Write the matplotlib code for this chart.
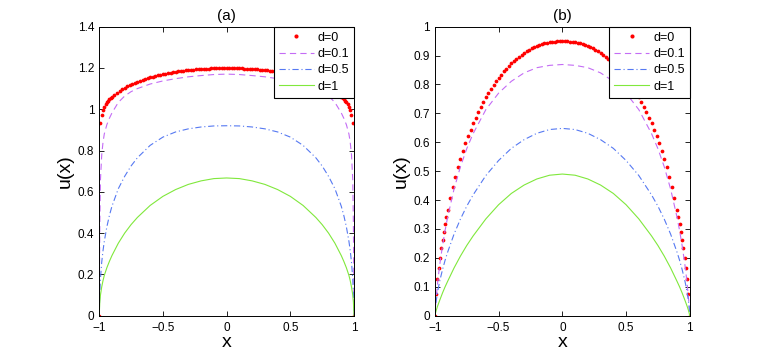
import numpy as np
import matplotlib.pyplot as plt

plt.rcParams['font.family'] = ['Liberation Sans', 'DejaVu Sans']
plt.rcParams['lines.scale_dashes'] = False

# x grid of the d=0 points (finer next to the walls)
x_dot = np.round(np.r_[np.arange(-1, -0.895, 0.01),
                       np.arange(-0.88, 0.885, 0.02),
                       np.arange(0.9, 1.005, 0.01)], 2)
# x grid of the line curves
x_line = [-1, -0.995, -0.99, -0.98, -0.97, -0.96, -0.94, -0.92, -0.9, -0.85,
          -0.8, -0.75, -0.7, -0.6, -0.5, -0.4, -0.3, -0.2, -0.1, 0,
          0.1, 0.2, 0.3, 0.4, 0.5, 0.6, 0.7, 0.75, 0.8, 0.85,
          0.9, 0.92, 0.94, 0.96, 0.97, 0.98, 0.99, 0.995, 1]

# panel (a)
a_d0 = [0, 0.935, 0.972, 0.996, 1.012, 1.024, 1.033, 1.041, 1.048, 1.054, 1.059,
        1.069, 1.079, 1.088, 1.096, 1.104, 1.111, 1.117, 1.123, 1.129, 1.134,
        1.139, 1.143, 1.147, 1.151, 1.155, 1.158, 1.161, 1.164, 1.167, 1.170,
        1.172, 1.175, 1.177, 1.179, 1.181, 1.183, 1.185, 1.186, 1.188, 1.189,
        1.190, 1.192, 1.193, 1.194, 1.195, 1.196, 1.197, 1.197, 1.198, 1.199,
        1.199, 1.200, 1.200, 1.200, 1.200,
        1.200, 1.200, 1.200, 1.199, 1.199,
        1.198, 1.197, 1.197, 1.196, 1.195, 1.194, 1.193, 1.192, 1.190, 1.189,
        1.188, 1.186, 1.185, 1.183, 1.181, 1.179, 1.177, 1.175, 1.172, 1.170,
        1.167, 1.164, 1.161, 1.158, 1.155, 1.151, 1.147, 1.143, 1.139, 1.134,
        1.129, 1.123, 1.117, 1.111, 1.104, 1.096, 1.088, 1.079, 1.069,
        1.059, 1.054, 1.048, 1.041, 1.033, 1.024, 1.012, 0.996, 0.972, 0.935, 0]
a_d01 = [0, 0.45, 0.66, 0.78, 0.84, 0.88, 0.925, 0.956, 0.982, 1.033,
         1.064, 1.085, 1.100, 1.122, 1.137, 1.148, 1.157, 1.163, 1.168, 1.170,
         1.168, 1.163, 1.157, 1.148, 1.137, 1.122, 1.100, 1.085, 1.064, 1.033,
         0.982, 0.956, 0.925, 0.88, 0.84, 0.78, 0.66, 0.45, 0]
a_d05 = [0, 0.11, 0.18, 0.26, 0.315, 0.36, 0.43, 0.485, 0.53, 0.615,
         0.675, 0.725, 0.765, 0.825, 0.865, 0.89, 0.905, 0.914, 0.919, 0.920,
         0.919, 0.914, 0.905, 0.89, 0.865, 0.825, 0.765, 0.725, 0.675, 0.615,
         0.53, 0.485, 0.43, 0.36, 0.315, 0.26, 0.18, 0.11, 0]
a_d1 = [0, 0.067, 0.10, 0.14, 0.17, 0.195, 0.232, 0.263, 0.291, 0.351,
        0.40, 0.441, 0.476, 0.534, 0.578, 0.611, 0.636, 0.653, 0.664, 0.667,
        0.664, 0.653, 0.636, 0.611, 0.578, 0.534, 0.476, 0.441, 0.40, 0.351,
        0.291, 0.263, 0.232, 0.195, 0.17, 0.14, 0.10, 0.067, 0]

# panel (b)
b_d0 = [0, 0.076, 0.127, 0.166, 0.200, 0.233, 0.263, 0.291, 0.318, 0.343, 0.366,
        0.408, 0.446, 0.481, 0.513, 0.543, 0.571, 0.597, 0.621, 0.644, 0.665,
        0.685, 0.704, 0.722, 0.739, 0.755, 0.770, 0.785, 0.798, 0.811, 0.823,
        0.834, 0.845, 0.855, 0.864, 0.873, 0.881, 0.889, 0.896, 0.903, 0.909,
        0.915, 0.920, 0.925, 0.929, 0.933, 0.937, 0.940, 0.942, 0.944, 0.946,
        0.947, 0.948, 0.949, 0.949, 0.950,
        0.949, 0.949, 0.948, 0.947, 0.946,
        0.944, 0.942, 0.940, 0.937, 0.933, 0.929, 0.925, 0.920, 0.915, 0.909,
        0.903, 0.896, 0.889, 0.881, 0.873, 0.864, 0.855, 0.845, 0.834, 0.823,
        0.811, 0.798, 0.785, 0.770, 0.755, 0.739, 0.722, 0.704, 0.685, 0.665,
        0.644, 0.621, 0.597, 0.571, 0.543, 0.513, 0.481, 0.446, 0.408,
        0.366, 0.343, 0.318, 0.291, 0.263, 0.233, 0.200, 0.166, 0.127, 0.076, 0]
b_d01 = [0, 0.035, 0.062, 0.108, 0.148, 0.183, 0.243, 0.295, 0.341, 0.438,
         0.515, 0.578, 0.630, 0.713, 0.770, 0.811, 0.840, 0.858, 0.866, 0.869,
         0.866, 0.858, 0.840, 0.811, 0.770, 0.713, 0.630, 0.578, 0.515, 0.438,
         0.341, 0.295, 0.243, 0.183, 0.148, 0.108, 0.062, 0.035, 0]
b_d05 = [0, 0.032, 0.051, 0.079, 0.103, 0.124, 0.160, 0.192, 0.220, 0.282,
         0.334, 0.379, 0.418, 0.485, 0.537, 0.579, 0.609, 0.631, 0.644, 0.648,
         0.644, 0.631, 0.609, 0.579, 0.537, 0.485, 0.418, 0.379, 0.334, 0.282,
         0.220, 0.192, 0.160, 0.124, 0.103, 0.079, 0.051, 0.032, 0]
b_d1 = [0, 0.010, 0.018, 0.032, 0.044, 0.056, 0.079, 0.100, 0.119, 0.165,
        0.206, 0.243, 0.276, 0.335, 0.384, 0.423, 0.452, 0.473, 0.486, 0.490,
        0.486, 0.473, 0.452, 0.423, 0.384, 0.335, 0.276, 0.243, 0.206, 0.165,
        0.119, 0.100, 0.079, 0.056, 0.044, 0.032, 0.018, 0.010, 0]

labels = ['d=0', 'd=0.1', 'd=0.5', 'd=1']
xticks = [-1, -0.5, 0, 0.5, 1]
xticklabels = ['\u22121', '\u22120.5', '0', '0.5', '1']
a_yticks = [0, 0.2, 0.4, 0.6, 0.8, 1, 1.2, 1.4]
a_yticklabels = ['0', '0.2', '0.4', '0.6', '0.8', '1', '1.2', '1.4']
b_yticks = [0, 0.1, 0.2, 0.3, 0.4, 0.5, 0.6, 0.7, 0.8, 0.9, 1]
b_yticklabels = ['0', '0.1', '0.2', '0.3', '0.4', '0.5', '0.6', '0.7', '0.8', '0.9', '1']

c_red = '#ff0000'
c_mag = '#c46cf5'
c_blue = '#5679f2'
c_green = '#80e83c'


def draw(ax, y0, y01, y05, y1, ytop, yticks, yticklabels, title):
    ax.plot(x_dot, y0, ls='none', marker='o', ms=2.7, mew=0, color=c_red, label=labels[0])
    ax.plot(x_line, y01, color=c_mag, lw=0.8, dashes=(4.5, 3), label=labels[1])
    ax.plot(x_line, y05, color=c_blue, lw=0.8, dashes=(4.5, 2, 0.8, 2), label=labels[2])
    ax.plot(x_line, y1, color=c_green, lw=0.8, label=labels[3])
    ax.set_xlim(-1, 1)
    ax.set_ylim(0, ytop)
    ax.set_xticks(xticks)
    ax.set_xticklabels(xticklabels)
    ax.set_yticks(yticks)
    ax.set_yticklabels(yticklabels)
    ax.tick_params(direction='in', top=True, right=True, length=3.5, width=0.6,
                   labelsize=8.5)
    ax.tick_params(axis='x', pad=4.5)
    ax.tick_params(axis='y', pad=3.5)
    for s in ax.spines.values():
        s.set_linewidth(0.7)
    ax.set_title(title, fontsize=11, pad=5)
    ax.set_xlabel('x', fontsize=14, labelpad=0)
    ax.set_ylabel('u(x)', fontsize=14, labelpad=3)
    leg = ax.legend(loc='upper right', borderaxespad=0, fancybox=False,
                    edgecolor='black', framealpha=1, fontsize=9,
                    handlelength=2.8, handletextpad=0.3, labelspacing=0.35,
                    borderpad=0.4, markerscale=1.1)
    leg.get_frame().set_linewidth(0.8)


fig = plt.figure(figsize=(7.63, 3.56), dpi=100)
ax_a = fig.add_axes([0.130, 0.1132, 0.334, 0.812])
ax_b = fig.add_axes([0.570, 0.1132, 0.334, 0.812])
draw(ax_a, a_d0, a_d01, a_d05, a_d1, 1.4, a_yticks, a_yticklabels, '(a)')
draw(ax_b, b_d0, b_d01, b_d05, b_d1, 1, b_yticks, b_yticklabels, '(b)')
fig.savefig('out.png', dpi=100)
